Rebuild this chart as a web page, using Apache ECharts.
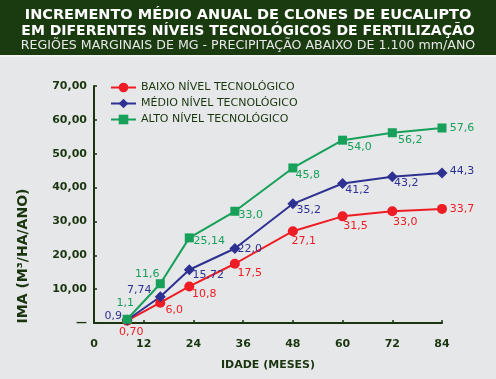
<!DOCTYPE html>
<html><head><meta charset="utf-8">
<script src="https://cdn.jsdelivr.net/npm/echarts@6/dist/echarts.min.js"></script>
<style>html,body{margin:0;padding:0;background:#e6e7e8;}#c{width:496px;height:379px;}</style>
</head><body><div id="c"></div>
<script>
// ---- data ----
var ages = [8, 16, 23, 34, 48, 60, 72, 84];
var baixo = [0.70, 6.0, 10.8, 17.5, 27.1, 31.5, 33.0, 33.7];
var medio = [0.9, 7.74, 15.72, 22.0, 35.2, 41.2, 43.2, 44.3];
var alto = [1.1, 11.6, 25.14, 33.0, 45.8, 54.0, 56.2, 57.6];
var baixoText = ['0,70', '6,0', '10,8', '17,5', '27,1', '31,5', '33,0', '33,7'];
var medioText = ['0,9', '7,74', '15,72', '22,0', '35,2', '41,2', '43,2', '44,3'];
var altoText = ['1,1', '11,6', '25,14', '33,0', '45,8', '54,0', '56,2', '57,6'];
var seriesNames = ['BAIXO NÍVEL TECNOLÓGICO', 'MÉDIO NÍVEL TECNOLÓGICO', 'ALTO NÍVEL TECNOLÓGICO'];
var xTicks = [0, 12, 24, 36, 48, 60, 72, 84];
var yTicks = [0, 10, 20, 30, 40, 50, 60, 70];

// ---- label offsets (style) ----
var baixoOff = [[4,12],[14,7],[15,8],[15,9],[11,10],[13,10],[13,11],[20,0]];
var medioOff = [[-14,-4],[-21,-7],[19,5],[15,1],[16,6],[15,7],[14,6],[20,-2]];
var altoOff = [[-2,-16],[-13,-10],[20,3],[16,4],[15,7],[17,7],[18,7],[20,0]];

var RED = '#ee1c24', BLUE = '#2e3192', GREEN = '#16a05a', DARK = '#1a3510';
var FONT = 'DejaVu Sans';

function mk(vals, texts, offs) {
  return vals.map(function (v, i) {
    return {
      value: [ages[i], v],
      label: { show: true, position: 'inside', offset: offs[i], formatter: texts[i] }
    };
  });
}
function series(name, color, symbol, size, data) {
  return {
    name: name, type: 'line', data: data, symbol: symbol, symbolSize: size,
    itemStyle: { color: color }, lineStyle: { color: color, width: 2 },
    label: { color: color, fontFamily: FONT, fontSize: 11 },
    z: 3
  };
}

var chart = echarts.init(document.getElementById('c'));
chart.setOption({
  backgroundColor: '#e6e7e8',
  animation: false,
  graphic: [
    { type: 'rect', shape: { x: 0, y: 0, width: 496, height: 55 }, style: { fill: '#1a3a10' } },
    { type: 'rect', shape: { x: 0, y: 55, width: 496, height: 2 }, style: { fill: '#f4f4f4' } },
    { type: 'text', left: 'center', top: 8, style: { text: 'INCREMENTO MÉDIO ANUAL DE CLONES DE EUCALIPTO', fill: '#ffffff', font: 'bold 14.5px "DejaVu Sans"' } },
    { type: 'text', left: 'center', top: 24, style: { text: 'EM DIFERENTES NÍVEIS TECNOLÓGICOS DE FERTILIZAÇÃO', fill: '#ffffff', font: 'bold 14px "DejaVu Sans"' } },
    { type: 'text', left: 'center', top: 39, style: { text: 'REGIÕES MARGINAIS DE MG - PRECIPITAÇÃO ABAIXO DE 1.100 mm/ANO', fill: '#e8e8e8', font: '12.6px "DejaVu Sans"' } },
    { type: 'text', x: 23, y: 256, rotation: Math.PI / 2, style: { text: 'IMA (M³/HA/ANO)', fill: DARK, font: 'bold 14px "DejaVu Sans"', align: 'center', verticalAlign: 'middle' } }
  ],
  legend: {
    orient: 'vertical', left: 105, top: 77, itemWidth: 25, itemHeight: 12, itemGap: 5,
    textStyle: { color: DARK, fontFamily: FONT, fontSize: 11 },
    data: seriesNames
  },
  grid: { left: 94, right: 54, top: 86, bottom: 56 },
  xAxis: {
    type: 'value', min: 0, max: 84, interval: 12,
    name: 'IDADE (MESES)', nameLocation: 'middle', nameGap: 37,
    nameTextStyle: { color: DARK, fontFamily: FONT, fontSize: 11, fontWeight: 'bold' },
    axisLine: { lineStyle: { color: DARK, width: 2 } },
    axisTick: { inside: true, length: 3, lineStyle: { color: DARK, width: 1.5 } },
    splitLine: { show: false },
    axisLabel: { color: DARK, fontFamily: FONT, fontSize: 11, fontWeight: 'bold', margin: 16,
      formatter: function (v) { return xTicks.indexOf(v) >= 0 ? String(v) : ''; } }
  },
  yAxis: {
    type: 'value', min: 0, max: 70, interval: 10,
    axisLine: { show: true, lineStyle: { color: DARK, width: 2 } },
    axisTick: { show: true, inside: true, length: 3, lineStyle: { color: DARK, width: 1.5 } },
    splitLine: { show: false },
    axisLabel: { color: DARK, fontFamily: FONT, fontSize: 11, fontWeight: 'bold', margin: 7,
      formatter: function (v) { return yTicks.indexOf(v) < 0 ? '' : (v === 0 ? '—' : v.toFixed(2).replace('.', ',')); } }
  },
  series: [
    series(seriesNames[0], RED, 'circle', 10, mk(baixo, baixoText, baixoOff)),
    series(seriesNames[1], BLUE, 'diamond', 11, mk(medio, medioText, medioOff)),
    series(seriesNames[2], GREEN, 'rect', 9, mk(alto, altoText, altoOff))
  ]
});
</script></body></html>
